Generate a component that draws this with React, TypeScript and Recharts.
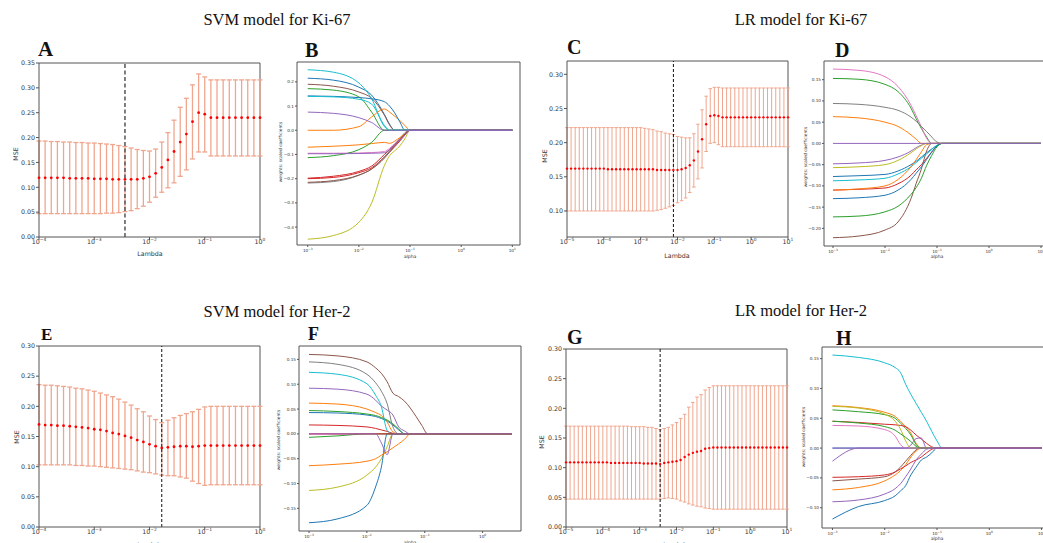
import React from 'react';
import { ComposedChart, Line, XAxis, YAxis, ReferenceLine, ErrorBar } from 'recharts';

const SANS = '"DejaVu Sans", sans-serif';
const SERIF = '"Liberation Serif", "Times New Roman", serif';
const AX = '#555';
const TXT = '#333';
const BAR = '#F0A68E';
const C = { blue: '#1f77b4', orange: '#ff7f0e', green: '#2ca02c', red: '#d62728', purple: '#9467bd', brown: '#8c564b', pink: '#e377c2', gray: '#7f7f7f', olive: '#bcbd22', cyan: '#17becf' };

// ---------- lambda grids (log10 lambda) ----------
const lamA = [-4.000, -3.889, -3.778, -3.667, -3.556, -3.444, -3.333, -3.222, -3.111, -3.000, -2.889, -2.778, -2.667, -2.556, -2.444, -2.333, -2.222, -2.111, -2.000, -1.889, -1.778, -1.667, -1.556, -1.444, -1.333, -1.222, -1.111, -1.000, -0.889, -0.778, -0.667, -0.556, -0.444, -0.333, -0.222, -0.111, 0.000];
const lamC = [-5.000, -4.889, -4.778, -4.667, -4.556, -4.444, -4.333, -4.222, -4.111, -4.000, -3.889, -3.778, -3.667, -3.556, -3.444, -3.333, -3.222, -3.111, -3.000, -2.889, -2.778, -2.667, -2.556, -2.444, -2.333, -2.222, -2.111, -2.000, -1.889, -1.778, -1.667, -1.556, -1.444, -1.333, -1.222, -1.111, -1.000, -0.889, -0.778, -0.667, -0.556, -0.444, -0.333, -0.222, -0.111, 0.000, 0.111, 0.222, 0.333, 0.444, 0.556, 0.667, 0.778, 0.889, 1.000];

// ---------- A: SVM Ki-67 CV ----------
const meanA = [0.119, 0.119, 0.119, 0.119, 0.119, 0.118, 0.118, 0.118, 0.118, 0.117, 0.117, 0.117, 0.116, 0.116, 0.116, 0.116, 0.116, 0.118, 0.121, 0.128, 0.140, 0.155, 0.172, 0.191, 0.207, 0.232, 0.250, 0.247, 0.240, 0.240, 0.240, 0.240, 0.240, 0.240, 0.240, 0.240, 0.240];
const lowerA = [0.047, 0.047, 0.047, 0.047, 0.047, 0.047, 0.047, 0.047, 0.047, 0.047, 0.047, 0.048, 0.048, 0.049, 0.051, 0.053, 0.057, 0.062, 0.070, 0.080, 0.090, 0.099, 0.109, 0.122, 0.135, 0.157, 0.171, 0.171, 0.163, 0.163, 0.163, 0.163, 0.163, 0.163, 0.163, 0.163, 0.163];
const upperA = [0.193, 0.193, 0.192, 0.192, 0.191, 0.191, 0.190, 0.190, 0.189, 0.189, 0.188, 0.187, 0.186, 0.184, 0.182, 0.179, 0.176, 0.174, 0.173, 0.177, 0.191, 0.210, 0.235, 0.261, 0.279, 0.306, 0.328, 0.322, 0.316, 0.316, 0.316, 0.316, 0.316, 0.316, 0.316, 0.316, 0.316];
const bestA = -2.444;

// ---------- C: LR Ki-67 CV ----------
const meanC = [0.162, 0.162, 0.162, 0.162, 0.162, 0.162, 0.162, 0.162, 0.162, 0.162, 0.161, 0.161, 0.161, 0.161, 0.161, 0.161, 0.161, 0.161, 0.161, 0.161, 0.161, 0.161, 0.160, 0.160, 0.160, 0.160, 0.160, 0.160, 0.161, 0.163, 0.167, 0.174, 0.187, 0.205, 0.227, 0.239, 0.240, 0.239, 0.237, 0.237, 0.237, 0.237, 0.237, 0.237, 0.237, 0.237, 0.237, 0.237, 0.237, 0.237, 0.237, 0.237, 0.237, 0.237, 0.237];
const upperC = [0.222, 0.222, 0.222, 0.222, 0.222, 0.222, 0.222, 0.222, 0.222, 0.222, 0.222, 0.222, 0.222, 0.222, 0.222, 0.222, 0.222, 0.222, 0.222, 0.221, 0.220, 0.219, 0.217, 0.216, 0.214, 0.213, 0.212, 0.209, 0.208, 0.207, 0.207, 0.213, 0.227, 0.248, 0.268, 0.279, 0.281, 0.281, 0.280, 0.280, 0.280, 0.280, 0.280, 0.280, 0.280, 0.280, 0.280, 0.280, 0.280, 0.280, 0.280, 0.280, 0.280, 0.280, 0.280];
const lowerC = [0.100, 0.100, 0.100, 0.100, 0.100, 0.100, 0.100, 0.100, 0.100, 0.100, 0.100, 0.100, 0.100, 0.100, 0.100, 0.100, 0.100, 0.100, 0.100, 0.100, 0.100, 0.100, 0.101, 0.102, 0.104, 0.106, 0.108, 0.112, 0.115, 0.119, 0.127, 0.135, 0.147, 0.163, 0.187, 0.199, 0.200, 0.197, 0.194, 0.194, 0.194, 0.194, 0.194, 0.194, 0.194, 0.194, 0.194, 0.194, 0.194, 0.194, 0.194, 0.194, 0.194, 0.194, 0.194];
const bestC = -2.111;

// ---------- E: SVM Her-2 CV ----------
const meanE = [0.170, 0.169, 0.169, 0.168, 0.168, 0.167, 0.166, 0.165, 0.164, 0.162, 0.161, 0.159, 0.156, 0.154, 0.151, 0.148, 0.144, 0.141, 0.137, 0.134, 0.131, 0.132, 0.133, 0.134, 0.134, 0.133, 0.134, 0.135, 0.135, 0.135, 0.135, 0.135, 0.135, 0.135, 0.135, 0.135, 0.135];
const upperE = [0.236, 0.235, 0.235, 0.234, 0.233, 0.232, 0.230, 0.229, 0.227, 0.225, 0.222, 0.219, 0.216, 0.212, 0.207, 0.202, 0.196, 0.191, 0.184, 0.178, 0.173, 0.177, 0.181, 0.185, 0.188, 0.191, 0.195, 0.199, 0.200, 0.200, 0.200, 0.200, 0.200, 0.200, 0.200, 0.200, 0.200];
const lowerE = [0.103, 0.103, 0.103, 0.103, 0.103, 0.103, 0.102, 0.102, 0.101, 0.101, 0.100, 0.099, 0.098, 0.097, 0.096, 0.095, 0.093, 0.091, 0.090, 0.088, 0.086, 0.085, 0.085, 0.083, 0.081, 0.076, 0.072, 0.069, 0.070, 0.070, 0.070, 0.070, 0.070, 0.070, 0.070, 0.070, 0.070];
const bestE = -1.778;

// ---------- G: LR Her-2 CV ----------
const meanG = [0.109, 0.109, 0.109, 0.109, 0.109, 0.109, 0.109, 0.109, 0.109, 0.109, 0.109, 0.108, 0.108, 0.108, 0.108, 0.108, 0.108, 0.108, 0.108, 0.107, 0.107, 0.107, 0.107, 0.106, 0.108, 0.109, 0.110, 0.111, 0.113, 0.118, 0.122, 0.125, 0.127, 0.128, 0.132, 0.133, 0.134, 0.134, 0.134, 0.134, 0.134, 0.134, 0.134, 0.134, 0.134, 0.134, 0.134, 0.134, 0.134, 0.134, 0.134, 0.134, 0.134, 0.134, 0.134];
const upperG = [0.170, 0.170, 0.170, 0.170, 0.170, 0.170, 0.170, 0.170, 0.170, 0.170, 0.170, 0.170, 0.170, 0.170, 0.170, 0.170, 0.169, 0.169, 0.169, 0.169, 0.168, 0.168, 0.166, 0.164, 0.166, 0.168, 0.172, 0.176, 0.183, 0.190, 0.202, 0.210, 0.219, 0.223, 0.231, 0.235, 0.238, 0.238, 0.238, 0.238, 0.238, 0.238, 0.238, 0.238, 0.238, 0.238, 0.238, 0.238, 0.238, 0.238, 0.238, 0.238, 0.238, 0.238, 0.238];
const lowerG = [0.047, 0.047, 0.047, 0.047, 0.047, 0.047, 0.047, 0.047, 0.047, 0.047, 0.047, 0.047, 0.047, 0.047, 0.047, 0.047, 0.047, 0.047, 0.047, 0.047, 0.047, 0.047, 0.047, 0.047, 0.048, 0.049, 0.048, 0.047, 0.044, 0.042, 0.039, 0.037, 0.035, 0.034, 0.032, 0.031, 0.030, 0.030, 0.030, 0.030, 0.030, 0.030, 0.030, 0.030, 0.030, 0.030, 0.030, 0.030, 0.030, 0.030, 0.030, 0.030, 0.030, 0.030, 0.030];
const bestG = -2.444;

// ---------- B: SVM Ki-67 coefficient paths (log10 alpha grid) ----------
const gridB = [-3, -2.5, -2, -1.75, -1.5, -1.4, -1.3, -1.2, -1.1, -1.0, -0.9, 0, 1];
const bBlue1 = [0.215, 0.207, 0.178, 0.145, 0.065, 0.025, 0, 0, 0, 0, 0, 0, 0];
const bOrange1 = [0, 0, 0.015, 0.055, 0.088, 0.075, 0.058, 0.040, 0.020, 0, 0, 0, 0];
const bGreen1 = [0.172, 0.166, 0.138, 0.075, 0, 0, 0, 0, 0, 0, 0, 0, 0];
const bRed1 = [-0.200, -0.195, -0.175, -0.155, -0.110, -0.090, -0.068, -0.045, -0.020, 0, 0, 0, 0];
const bBrown1 = [0.190, 0.182, 0.158, 0.132, 0.062, 0.022, 0, 0, 0, 0, 0, 0, 0];
const bPink = [-0.095, -0.095, -0.094, -0.092, -0.088, -0.075, -0.055, -0.035, -0.015, 0, 0, 0, 0];
const bGray = [-0.218, -0.212, -0.186, -0.160, -0.110, -0.085, -0.060, -0.035, -0.010, 0, 0, 0, 0];
const bOlive = [-0.450, -0.435, -0.380, -0.300, -0.145, -0.105, -0.085, -0.065, -0.035, 0, 0, 0, 0];
const bCyan1 = [0.250, 0.240, 0.195, 0.130, 0.015, 0, 0, 0, 0, 0, 0, 0, 0];
const bBlue2 = [0.142, 0.140, 0.135, 0.130, 0.118, 0.100, 0.072, 0.035, 0, 0, 0, 0, 0];
const bOrange2 = [-0.070, -0.066, -0.060, -0.055, -0.050, -0.054, -0.045, -0.030, -0.015, 0, 0, 0, 0];
const bGreen2 = [-0.113, -0.105, -0.080, -0.050, 0, 0, 0, 0, 0, 0, 0, 0, 0];
const bRed2 = [-0.198, -0.190, -0.170, -0.148, -0.100, -0.080, -0.060, -0.040, -0.015, 0, 0, 0, 0];
const bBrown2 = [-0.215, -0.208, -0.185, -0.160, -0.115, -0.090, -0.065, -0.040, -0.015, 0, 0, 0, 0];
const bCyan2 = [0.140, 0.138, 0.128, 0.108, 0.020, 0, 0, 0, 0, 0, 0, 0, 0];
const bPurple1 = [0.075, 0.070, 0.052, 0.032, 0, 0, 0, 0, 0, 0, 0, 0, 0];
const bPurple2 = [-0.097, -0.097, -0.096, -0.095, -0.093, -0.080, -0.060, -0.040, -0.020, 0, 0, 0, 0];

// ---------- D: LR Ki-67 coefficient paths ----------
const gridD = [-3, -2.5, -2, -1.75, -1.5, -1.4, -1.3, -1.2, -1.1, -1.0, -0.9, 0, 1];
const dBlue1 = [-0.078, -0.076, -0.073, -0.065, -0.050, -0.042, -0.032, -0.022, -0.013, -0.005, 0, 0, 0];
const dOrange1 = [0.063, 0.060, 0.050, 0.040, 0.020, 0.010, 0, 0, 0, 0, 0, 0, 0];
const dGreen1 = [0.153, 0.151, 0.139, 0.122, 0.083, 0.058, 0.035, 0.015, 0, 0, 0, 0, 0];
const dRed = [-0.110, -0.108, -0.105, -0.095, -0.075, -0.062, -0.050, -0.035, -0.020, -0.006, 0, 0, 0];
const dPurple1 = [-0.048, -0.046, -0.040, -0.032, -0.018, -0.010, -0.004, 0, 0, 0, 0, 0, 0];
const dBrown = [-0.222, -0.218, -0.204, -0.185, -0.130, -0.094, -0.060, -0.018, 0, 0, 0, 0, 0];
const dPink = [0.175, 0.172, 0.157, 0.134, 0.090, 0.065, 0.039, 0.012, 0, 0, 0, 0, 0];
const dGray = [0.094, 0.092, 0.085, 0.078, 0.062, 0.052, 0.040, 0.028, 0.015, 0.003, 0, 0, 0];
const dOlive = [-0.057, -0.055, -0.050, -0.040, -0.022, -0.013, -0.005, 0, 0, 0, 0, 0, 0];
const dCyan = [-0.088, -0.086, -0.082, -0.072, -0.055, -0.045, -0.035, -0.025, -0.014, -0.004, 0, 0, 0];
const dBlue2 = [-0.130, -0.128, -0.122, -0.110, -0.085, -0.070, -0.055, -0.038, -0.020, -0.006, 0, 0, 0];
const dOrange2 = [-0.110, -0.107, -0.100, -0.085, -0.055, -0.038, -0.020, -0.003, 0, 0, 0, 0, 0];
const dGreen2 = [-0.173, -0.171, -0.161, -0.148, -0.120, -0.104, -0.082, -0.052, -0.028, -0.008, 0, 0, 0];
const dPurple2 = [0, 0, 0, 0, 0, 0, 0, 0, 0, 0, 0, 0, 0];

// ---------- F: SVM Her-2 coefficient paths ----------
const gridF = [-3, -2.5, -2, -1.85, -1.75, -1.65, -1.55, -1.45, -1.35, -1.25, -1.15, -1.05, -0.95, -0.85, 0.5];
const fBlue1 = [0.043, 0.042, 0.038, 0.035, 0.031, 0.026, 0.018, 0.008, 0, 0, 0, 0, 0, 0, 0];
const fOrange1 = [0.062, 0.060, 0.050, 0.043, 0.037, 0.024, 0.004, 0, 0, 0, 0, 0, 0, 0, 0];
const fGreen1 = [0.047, 0.045, 0.040, 0.037, 0.033, 0.028, 0.020, 0.010, 0, 0, 0, 0, 0, 0, 0];
const fRed1 = [0.018, 0.017, 0.014, 0.011, 0.008, 0.005, 0.001, 0, 0, 0, 0, 0, 0, 0, 0];
const fPurple1 = [0.092, 0.090, 0.080, 0.068, 0.056, 0.048, 0.038, 0.014, 0.006, 0, 0, 0, 0, 0, 0];
const fBrown = [0.160, 0.157, 0.145, 0.133, 0.122, 0.105, 0.082, 0.075, 0.066, 0.052, 0.035, 0.017, 0, 0, 0];
const fPink = [0, 0, 0, 0, 0, 0, 0, 0, 0, 0, 0, 0, 0, 0, 0];
const fGray = [0.145, 0.140, 0.120, 0.103, 0.086, 0.061, 0.014, 0, 0, 0, 0, 0, 0, 0, 0];
const fOlive = [-0.114, -0.107, -0.083, -0.067, -0.050, -0.026, 0, 0, 0, 0, 0, 0, 0, 0, 0];
const fCyan = [0.124, 0.120, 0.101, 0.078, 0.055, 0.007, 0, 0, 0, 0, 0, 0, 0, 0, 0];
const fBlue2 = [-0.179, -0.171, -0.144, -0.107, -0.067, 0, 0, 0, 0, 0, 0, 0, 0, 0, 0];
const fOrange2 = [-0.064, -0.061, -0.055, -0.050, -0.043, -0.036, -0.028, -0.020, -0.011, 0, 0, 0, 0, 0, 0];
const fGreen2 = [-0.007, -0.004, 0, 0, 0, 0, 0, 0, 0, 0, 0, 0, 0, 0, 0];
const fRed2 = [0, 0, 0, 0, 0, 0, 0, 0, 0, 0, 0, 0, 0, 0, 0];
const fPurple2 = [0, 0, 0, 0, -0.018, -0.042, 0, 0, 0, 0, 0, 0, 0, 0, 0];

// ---------- H: LR Her-2 coefficient paths ----------
const gridH = [-3, -2.5, -2, -1.8, -1.7, -1.6, -1.5, -1.4, -1.3, -1.2, -1.1, -1.0, -0.9, 1];
const hBlue1 = [0, 0, 0, 0, 0, 0, 0, 0, 0, 0, 0, 0, 0, 0];
const hOrange1 = [0.071, 0.068, 0.060, 0.053, 0.045, 0.036, 0.025, 0.008, 0, 0, 0, 0, 0, 0];
const hGreen1 = [0.064, 0.061, 0.056, 0.050, 0.042, 0.033, 0.022, 0.006, 0, 0, 0, 0, 0, 0];
const hRed1 = [0.045, 0.043, 0.040, 0.039, 0.038, 0.036, 0.030, 0.022, 0.015, 0.008, 0.002, 0, 0, 0];
const hPurple1 = [0, 0, 0, 0, 0, 0, 0.005, 0.016, 0.017, 0, 0, 0, 0, 0];
const hBrown = [-0.055, -0.052, -0.048, -0.040, -0.032, -0.022, -0.012, -0.003, 0, 0, 0, 0, 0, 0];
const hPink = [0.038, 0.037, 0.031, 0.020, 0.006, 0, 0, 0, 0, 0, 0, 0, 0, 0];
const hOlive = [0.070, 0.067, 0.057, 0.045, 0.032, 0.012, 0, 0, 0, 0, 0, 0, 0, 0];
const hCyan = [0.156, 0.152, 0.143, 0.135, 0.127, 0.107, 0.090, 0.075, 0.060, 0.045, 0.028, 0.012, 0, 0];
const hBlue2 = [-0.119, -0.098, -0.088, -0.080, -0.072, -0.063, -0.045, -0.032, -0.020, -0.015, -0.008, 0, 0, 0];
const hOrange2 = [-0.070, -0.066, -0.055, -0.045, -0.038, -0.028, -0.015, -0.005, 0, 0, 0, 0, 0, 0];
const hGreen2 = [0.045, 0.042, 0.036, 0.030, 0.024, 0.018, 0.011, 0.003, 0, 0, 0, 0, 0, 0];
const hRed2 = [-0.049, -0.048, -0.045, -0.040, -0.035, -0.030, -0.024, -0.020, -0.015, -0.008, -0.002, 0, 0, 0];
const hPurple3 = [-0.090, -0.087, -0.077, -0.068, -0.060, -0.048, -0.035, -0.020, -0.010, -0.002, 0, 0, 0, 0];
const hPurple2 = [-0.022, 0, 0, 0, 0, 0, 0, 0, 0, 0, 0, 0, 0, 0];

// ---------- tick labels ----------
const ticksA = [-4, -3, -2, -1, 0];
const ticksC = [-5, -4, -3, -2, -1, 0, 1];
const ticksBD = [-3, -2, -1, 0, 1];
const ticksF = [-3, -2, -1, 0];
const yTicksA = [0, 0.05, 0.1, 0.15, 0.2, 0.25, 0.3, 0.35];
const yTicksC = [0.1, 0.15, 0.2, 0.25, 0.3];
const yTicksEG = [0, 0.05, 0.1, 0.15, 0.2, 0.25, 0.3];
const yTicksB = [-0.4, -0.3, -0.2, -0.1, 0, 0.1, 0.2];
const yTicksD = [-0.2, -0.15, -0.1, -0.05, 0, 0.05, 0.1, 0.15];
const yTicksF = [-0.15, -0.1, -0.05, 0, 0.05, 0.1, 0.15];
const yTicksH = [-0.1, -0.05, 0, 0.05, 0.1, 0.15];

// ---------- helpers ----------
const L = 44, T = 8, R = 8, BOT = 34;
type Rect = { x0: number; y0: number; x1: number; y1: number };

const fmt = (v: number, d: number) => (v < -1e-9 ? '\u2212' : '') + Math.abs(v).toFixed(d);

const powTick = (fs: number, off: number) => (p: any) => {
  const e = Math.round(p.payload.value);
  const s = e < 0 ? '\u2212' + Math.abs(e) : String(e);
  return (
    <text x={p.x} y={p.y + off} textAnchor="middle" fontFamily={SANS} fontSize={fs} fill={TXT}>
      <tspan>10</tspan>
      <tspan dy={-fs * 0.42} fontSize={fs * 0.7}>{s}</tspan>
    </text>
  );
};

function box(r: Rect) {
  return { left: r.x0 - L, top: r.y0 - T, width: r.x1 - r.x0 + L + R, height: r.y1 - r.y0 + T + BOT };
}

type CvProps = {
  rect: Rect; lam: number[]; mean: number[]; lower: number[]; upper: number[];
  xDom: [number, number]; xTicks: number[]; yDom: [number, number]; yTicks: number[];
  best: number; fs: number; tick: number; xOff: number; cap: number; barW: number; dotR: number;
  dashColor: string; dashW: number; dash: string;
};

function CvPanel(p: CvProps) {
  const b = box(p.rect);
  const rows = p.lam.map((e, i) => ({ x: e, mean: p.mean[i], err: [p.mean[i] - p.lower[i], p.upper[i] - p.mean[i]] }));
  return (
    <div style={{ position: 'absolute', left: b.left, top: b.top }}>
      <ComposedChart width={b.width} height={b.height} data={rows} margin={{ top: T, right: R, bottom: 0, left: 0 }}>
        <XAxis dataKey="x" type="number" domain={p.xDom} ticks={p.xTicks} interval={0} height={BOT}
          tickSize={p.tick} tickMargin={0} tick={powTick(p.fs, p.xOff)} axisLine={{ stroke: AX }} tickLine={{ stroke: AX }} />
        <YAxis type="number" domain={p.yDom} ticks={p.yTicks} interval={0} width={L}
          tickSize={p.tick} tickMargin={1} tick={{ fontSize: p.fs, fill: TXT, fontFamily: SANS }}
          tickFormatter={(v: number) => fmt(v, 2)} axisLine={{ stroke: AX }} tickLine={{ stroke: AX }} />
        <ReferenceLine y={p.yDom[1]} stroke={AX} ifOverflow="visible" />
        <ReferenceLine x={p.xDom[1]} stroke={AX} ifOverflow="visible" />
        <Line dataKey="mean" stroke="none" isAnimationActive={false} activeDot={false}
          dot={{ r: p.dotR, fill: '#ff0000', stroke: 'none' }}>
          <ErrorBar dataKey="err" direction="y" width={p.cap} stroke={BAR} strokeWidth={p.barW} isAnimationActive={false} />
        </Line>
        <ReferenceLine x={p.best} stroke={p.dashColor} strokeWidth={p.dashW} strokeDasharray={p.dash} ifOverflow="visible" />
      </ComposedChart>
    </div>
  );
}

type Series = { c: string; v: number[] };
type PathProps = {
  rect: Rect; grid: number[]; series: Series[]; xDom: [number, number]; xTicks: number[];
  yDom: [number, number]; yTicks: number[]; yDec: number; fs: number; tick: number; xOff: number;
};

function PathPanel(p: PathProps) {
  const b = box(p.rect);
  const rows = p.grid.map((e, i) => {
    const r: any = { x: e };
    p.series.forEach((s, k) => { r['s' + k] = s.v[i]; });
    return r;
  });
  return (
    <div style={{ position: 'absolute', left: b.left, top: b.top }}>
      <ComposedChart width={b.width} height={b.height} data={rows} margin={{ top: T, right: R, bottom: 0, left: 0 }}>
        <XAxis dataKey="x" type="number" domain={p.xDom} ticks={p.xTicks} interval={0} height={BOT}
          tickSize={p.tick} tickMargin={0} tick={powTick(p.fs, p.xOff)} axisLine={{ stroke: AX }} tickLine={{ stroke: AX }} />
        <YAxis type="number" domain={p.yDom} ticks={p.yTicks} interval={0} width={L}
          tickSize={p.tick} tickMargin={1} tick={{ fontSize: p.fs, fill: TXT, fontFamily: SANS }}
          tickFormatter={(v: number) => fmt(v, p.yDec)} axisLine={{ stroke: AX }} tickLine={{ stroke: AX }} />
        <ReferenceLine y={p.yDom[1]} stroke={AX} ifOverflow="visible" />
        <ReferenceLine x={p.xDom[1]} stroke={AX} ifOverflow="visible" />
        {p.series.map((s, k) => (
          <Line key={k} dataKey={'s' + k} type="monotone" stroke={s.c} strokeWidth={1} dot={false}
            activeDot={false} isAnimationActive={false} />
        ))}
      </ComposedChart>
    </div>
  );
}

const seriesB: Series[] = [
  { c: C.blue, v: bBlue1 }, { c: C.orange, v: bOrange1 }, { c: C.green, v: bGreen1 }, { c: C.red, v: bRed1 },
  { c: C.brown, v: bBrown1 }, { c: C.pink, v: bPink }, { c: C.gray, v: bGray }, { c: C.olive, v: bOlive },
  { c: C.cyan, v: bCyan1 }, { c: C.blue, v: bBlue2 }, { c: C.orange, v: bOrange2 }, { c: C.green, v: bGreen2 },
  { c: C.red, v: bRed2 }, { c: C.brown, v: bBrown2 }, { c: C.cyan, v: bCyan2 }, { c: C.purple, v: bPurple1 },
  { c: C.purple, v: bPurple2 },
];
const seriesD: Series[] = [
  { c: C.blue, v: dBlue1 }, { c: C.orange, v: dOrange1 }, { c: C.green, v: dGreen1 }, { c: C.red, v: dRed },
  { c: C.purple, v: dPurple1 }, { c: C.brown, v: dBrown }, { c: C.pink, v: dPink }, { c: C.gray, v: dGray },
  { c: C.olive, v: dOlive }, { c: C.cyan, v: dCyan }, { c: C.blue, v: dBlue2 }, { c: C.orange, v: dOrange2 },
  { c: C.green, v: dGreen2 }, { c: C.purple, v: dPurple2 },
];
const seriesF: Series[] = [
  { c: C.blue, v: fBlue1 }, { c: C.orange, v: fOrange1 }, { c: C.green, v: fGreen1 }, { c: C.red, v: fRed1 },
  { c: C.purple, v: fPurple1 }, { c: C.brown, v: fBrown }, { c: C.pink, v: fPink }, { c: C.gray, v: fGray },
  { c: C.olive, v: fOlive }, { c: C.cyan, v: fCyan }, { c: C.blue, v: fBlue2 }, { c: C.orange, v: fOrange2 },
  { c: C.green, v: fGreen2 }, { c: C.red, v: fRed2 }, { c: C.purple, v: fPurple2 },
];
const seriesH: Series[] = [
  { c: C.blue, v: hBlue1 }, { c: C.orange, v: hOrange1 }, { c: C.green, v: hGreen1 }, { c: C.red, v: hRed1 },
  { c: C.purple, v: hPurple1 }, { c: C.brown, v: hBrown }, { c: C.pink, v: hPink }, { c: C.olive, v: hOlive },
  { c: C.cyan, v: hCyan }, { c: C.blue, v: hBlue2 }, { c: C.orange, v: hOrange2 }, { c: C.green, v: hGreen2 },
  { c: C.red, v: hRed2 }, { c: C.purple, v: hPurple3 }, { c: C.purple, v: hPurple2 },
];

const titles = [
  { t: 'SVM model for Ki-67', x: 277, y: 25 },
  { t: 'LR model for Ki-67', x: 801, y: 25 },
  { t: 'SVM model for Her-2', x: 277, y: 317 },
  { t: 'LR model for Her-2', x: 801, y: 316 },
];
const letters = [
  { t: 'A', x: 38, y: 56, s: 21 }, { t: 'B', x: 305, y: 57, s: 20 }, { t: 'C', x: 567, y: 54, s: 20 },
  { t: 'D', x: 835, y: 57, s: 20 }, { t: 'E', x: 41, y: 340, s: 17 }, { t: 'F', x: 308, y: 340, s: 18 },
  { t: 'G', x: 567, y: 344, s: 20 }, { t: 'H', x: 836, y: 345, s: 20 },
];
const yLabels = [
  { t: 'MSE', x: 15, y: 154, s: 6.3 }, { t: 'MSE', x: 544, y: 156, s: 6.3 },
  { t: 'MSE', x: 16, y: 437, s: 6.3 }, { t: 'MSE', x: 541, y: 442, s: 6.3 },
  { t: 'weights: scaled coefficients', x: 280, y: 152, s: 4.4 },
  { t: 'weights: scaled coefficients', x: 805, y: 157, s: 4.4 },
  { t: 'weights: scaled coefficients', x: 278, y: 440, s: 4.4 },
  { t: 'weights: scaled coefficients', x: 803, y: 437, s: 4.4 },
];
const xLabels = [
  { t: 'Lambda', x: 150, y: 253, s: 6.3 }, { t: 'Lambda', x: 677, y: 255, s: 6.3 },
  { t: 'Lambda', x: 150, y: 544, s: 6.3 }, { t: 'Lambda', x: 676, y: 544, s: 6.3 },
  { t: 'alpha', x: 410, y: 256.5, s: 4.6 }, { t: 'alpha', x: 937, y: 256.5, s: 4.6 },
  { t: 'alpha', x: 410, y: 542, s: 4.6 }, { t: 'alpha', x: 937, y: 538, s: 4.6 },
];

export default function App() {
  const big = { fs: 6.3, tick: 3, xOff: 4 };
  const small = { fs: 4.2, tick: 2, xOff: 4.5 };
  return (
    <div style={{ position: 'fixed', left: 0, top: 0, width: 1043, height: 543, overflow: 'hidden', background: '#fff' }}>
      <CvPanel rect={{ x0: 39, y0: 63, x1: 260, y1: 237 }} lam={lamA} mean={meanA} lower={lowerA} upper={upperA}
        xDom={[-4, 0]} xTicks={ticksA} yDom={[0, 0.35]} yTicks={yTicksA} best={bestA} {...big}
        cap={2.5} barW={1.3} dotR={1.4} dashColor="#555" dashW={1.5} dash="4 2.5" />
      <CvPanel rect={{ x0: 567, y0: 61, x1: 788, y1: 237 }} lam={lamC} mean={meanC} lower={lowerC} upper={upperC}
        xDom={[-5, 1]} xTicks={ticksC} yDom={[0.0619, 0.3195]} yTicks={yTicksC} best={bestC} {...big}
        cap={1.8} barW={1} dotR={1.2} dashColor="#111" dashW={1} dash="3 2" />
      <CvPanel rect={{ x0: 39, y0: 346, x1: 260, y1: 527 }} lam={lamA} mean={meanE} lower={lowerE} upper={upperE}
        xDom={[-4, 0]} xTicks={ticksA} yDom={[0, 0.3]} yTicks={yTicksEG} best={bestE} {...big}
        cap={2.5} barW={1.3} dotR={1.4} dashColor="#111" dashW={1} dash="3 2" />
      <CvPanel rect={{ x0: 566, y0: 349, x1: 787, y1: 527 }} lam={lamC} mean={meanG} lower={lowerG} upper={upperG}
        xDom={[-5, 1]} xTicks={ticksC} yDom={[0, 0.3]} yTicks={yTicksEG} best={bestG} {...big}
        cap={1.8} barW={1} dotR={1.2} dashColor="#111" dashW={1} dash="3 2" />

      <PathPanel rect={{ x0: 297, y0: 62, x1: 520, y1: 245 }} grid={gridB} series={seriesB}
        xDom={[-3.21, 1.15]} xTicks={ticksBD} yDom={[-0.474, 0.282]} yTicks={yTicksB} yDec={1} {...small} />
      <PathPanel rect={{ x0: 824, y0: 61, x1: 1050, y1: 246 }} grid={gridD} series={seriesD}
        xDom={[-3.173, 1.173]} xTicks={ticksBD} yDom={[-0.2415, 0.194]} yTicks={yTicksD} yDec={2} {...small} />
      <PathPanel rect={{ x0: 299, y0: 346, x1: 521, y1: 531 }} grid={gridF} series={seriesF}
        xDom={[-3.173, 0.663]} xTicks={ticksF} yDom={[-0.1956, 0.177]} yTicks={yTicksF} yDec={2} {...small} />
      <PathPanel rect={{ x0: 822, y0: 347, x1: 1052, y1: 528 }} grid={gridH} series={seriesH}
        xDom={[-3.2, 1.2]} xTicks={ticksBD} yDom={[-0.134, 0.1695]} yTicks={yTicksH} yDec={2} {...small} />

      <svg width={1043} height={543} style={{ position: 'absolute', left: 0, top: 0, pointerEvents: 'none' }}>
        {titles.map((d, i) => (
          <text key={'t' + i} x={d.x} y={d.y} textAnchor="middle" fontFamily={SERIF} fontSize={16.5} fill="#111">{d.t}</text>
        ))}
        {letters.map((d, i) => (
          <text key={'l' + i} x={d.x} y={d.y} fontFamily={SERIF} fontWeight="bold" fontSize={d.s} fill="#111">{d.t}</text>
        ))}
        {yLabels.map((d, i) => (
          <text key={'y' + i} x={d.x} y={d.y} transform={`rotate(-90 ${d.x} ${d.y})`} textAnchor="middle"
            dominantBaseline="central" fontFamily={SANS} fontSize={d.s} fill={TXT}>{d.t}</text>
        ))}
        {xLabels.map((d, i) => (
          <text key={'x' + i} x={d.x} y={d.y} textAnchor="middle" dominantBaseline="central"
            fontFamily={SANS} fontSize={d.s} fill={TXT}>{d.t}</text>
        ))}
      </svg>
    </div>
  );
}
